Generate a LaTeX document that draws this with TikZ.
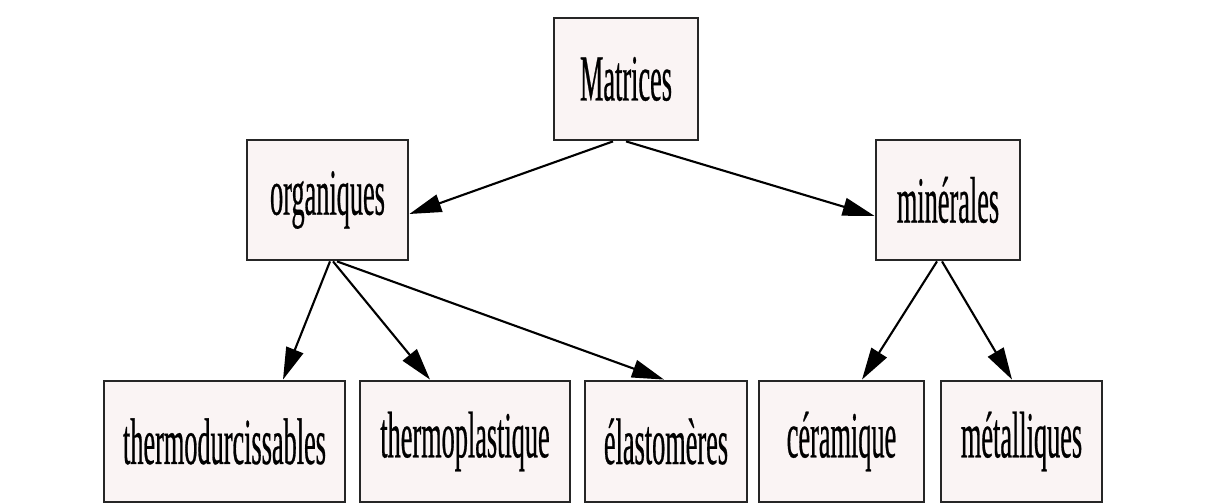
\documentclass[tikz,border=0pt]{standalone}
\usepackage{fontspec}
\setmainfont[FakeStretch=0.4,FakeBold=0.4]{Liberation Serif}
\usetikzlibrary{arrows.meta}
\definecolor{boxfill}{HTML}{FAF4F4}
\begin{document}
\begin{tikzpicture}[box/.style={draw=black!85,line width=0.8pt,fill=boxfill,inner sep=0pt,font=\fontsize{18.7}{22}\selectfont},
		fleche/.style={line width=0.6pt,-{Triangle[length=3.2mm,width=1.8mm]}}]
		\useasboundingbox (0,0) rectangle (12.25,5.03);
		\node[box,minimum width=1.44cm,minimum height=1.22cm] (mat) at (6.26,4.24) {Matrices};
		\node[box,minimum width=1.61cm,minimum height=1.2cm] (org) at (3.275,3.03) {organiques};
		\node[box,minimum width=1.44cm,minimum height=1.2cm] (min) at (9.48,3.03) {minérales};
		\node[box,minimum width=2.41cm,minimum height=1.21cm] (thd) at (2.245,0.615) {thermodurcissables};
		\node[box,minimum width=2.1cm,minimum height=1.21cm] (thp) at (4.65,0.615) {thermoplastique};
		\node[box,minimum width=1.62cm,minimum height=1.21cm] (ela) at (6.66,0.615) {élastomères};
		\node[box,minimum width=1.65cm,minimum height=1.21cm] (cer) at (8.415,0.615) {céramique};
		\node[box,minimum width=1.61cm,minimum height=1.21cm] (met) at (10.215,0.615) {métalliques};
		\draw[fleche]([xshift=-0.13cm]mat.south)--([yshift=-0.14cm]org.east);
		\draw[fleche](mat.south)--([yshift=-0.16cm]min.west);
		\draw[fleche]([xshift=0.025cm]org.south)--([xshift=0.585cm]thd.north);
		\draw[fleche]([xshift=0.055cm]org.south)--([xshift=-0.35cm]thp.north);
		\draw[fleche]([xshift=0.095cm]org.south)--([xshift=-0.02cm]ela.north);
		\draw[fleche]([xshift=-0.11cm]min.south)--([xshift=0.205cm]cer.north);
		\draw[fleche]([xshift=-0.06cm]min.south)--([xshift=-0.095cm]met.north);
	    \end{tikzpicture}
\end{document}
